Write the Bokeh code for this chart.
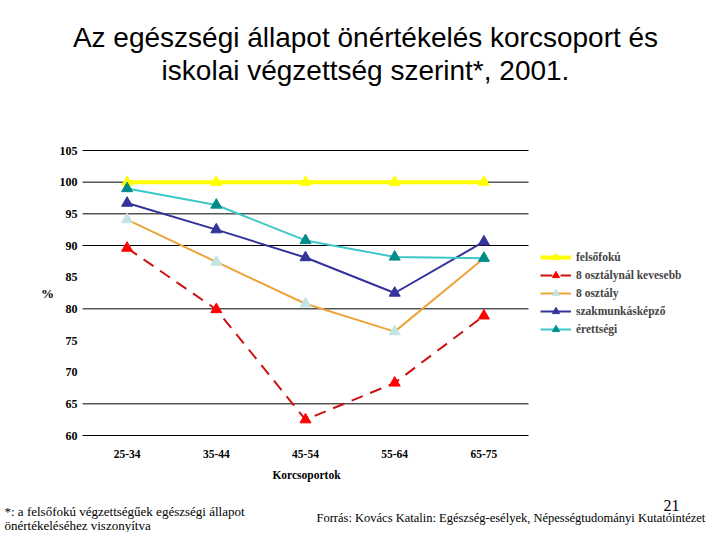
from bokeh.plotting import figure
from bokeh.models import Label, Legend, LegendItem, Range1d
from bokeh.embed import file_html
from bokeh.resources import INLINE

categories = ["25-34", "35-44", "45-54", "55-64", "65-75"]
felsofoku = [100, 100, 100, 100, 100]
kevesebb8 = [89.6, 79.9, 62.5, 68.3, 78.9]
osztaly8 = [94.1, 87.4, 80.8, 76.4, 88.0]
szakmunkas = [96.7, 92.5, 88.1, 82.5, 90.6]
erettsegi = [99.0, 96.4, 90.8, 88.2, 88.0]
y_ticks = [60, 65, 70, 75, 80, 85, 90, 95, 100, 105]
grid_values = [60, 65, 80, 90, 95, 100, 105]

SERIF = "'Liberation Serif', 'Times New Roman', serif"

W, H = 712, 532
# plot area in canvas pixels
FL, FR, FT, FB = 82, 528, 150, 435
ncat = len(categories)
cw = (FR - FL) / ncat
ppu = (FB - FT) / (y_ticks[-1] - y_ticks[0])
xs = list(range(ncat))
x0 = FL + cw / 2
xr = Range1d(-x0 / cw, (W - x0) / cw)
yr = Range1d(y_ticks[-1] - (H - FT) / ppu, y_ticks[-1] + FT / ppu)

p = figure(width=W, height=H, x_range=xr, y_range=yr,
           x_axis_location=None, y_axis_location=None,
           output_backend="svg", toolbar_location=None, min_border=0)
p.outline_line_color = None
p.grid.visible = False

# horizontal grid lines across the plot area
p.segment(x0=[-0.5] * len(grid_values), x1=[ncat - 0.5] * len(grid_values),
          y0=grid_values, y1=grid_values, line_color="black", line_width=1)

# tick labels
p.text(x=[-0.5] * len(y_ticks), y=y_ticks, text=[str(t) for t in y_ticks],
       x_offset=-5, text_align="right", text_baseline="middle",
       text_font=SERIF, text_font_style="bold", text_font_size="12px", text_color="black")
p.text(x=xs, y=[y_ticks[0]] * ncat, text=categories, y_offset=18,
       text_align="center", text_baseline="middle",
       text_font=SERIF, text_font_style="bold", text_font_size="11.5px", text_color="black")

series = [
    ("felsőfokú", felsofoku, "#FFFF00", "#FFFF00", 4, "solid"),
    ("8 osztálynál kevesebb", kevesebb8, "#CC1111", "#FF0000", 2, "12 8"),
    ("8 osztály", osztaly8, "#EBA53A", "#C5E3E3", 2, "solid"),
    ("szakmunkásképző", szakmunkas, "#333399", "#333399", 2, "solid"),
    ("érettségi", erettsegi, "#3CC8C8", "#008B8B", 2, "solid"),
]
items = []
for name, vals, lc, mc, lw, dash in series:
    ln = p.line(xs, vals, line_color=lc, line_width=lw, line_dash=dash)
    mk = p.scatter(xs, vals, marker="triangle", size=11, fill_color=mc, line_color=mc)
    items.append(LegendItem(label=name, renderers=[ln, mk]))

legend = Legend(items=items, location=(540, H - 338))
legend.border_line_color = None
legend.background_fill_alpha = 0
legend.margin = 0
legend.padding = 0
legend.spacing = 0
legend.label_height = 18
legend.glyph_height = 18
legend.glyph_width = 31
legend.label_standoff = 5
legend.label_text_font = SERIF
legend.label_text_font_style = "bold"
legend.label_text_font_size = "11.5px"
p.add_layout(legend, "center")

def lab(text, x, y, size, font=SERIF, style="normal", align="left"):
    p.add_layout(Label(x=x, y=H - y, x_units="screen", y_units="screen", text=text,
                       text_font=font, text_font_style=style, text_font_size=size,
                       text_align=align, text_baseline="middle", text_color="black"))

lab("Az egészségi állapot önértékelés korcsoport és", 365, 37, "28px", "'Liberation Sans', Arial, sans-serif", align="center")
lab("iskolai végzettség szerint*, 2001.", 365, 70, "28px", "'Liberation Sans', Arial, sans-serif", align="center")
lab("%", 47, 293, "13px", style="bold", align="center")
lab("Korcsoportok", 306, 474, "11.5px", style="bold", align="center")
lab("*: a felsőfokú végzettségűek egészségi állapot", 4, 511, "13px")
lab("önértékeléséhez viszonyítva", 4, 525, "13px")
lab("Forrás: Kovács Katalin: Egészség-esélyek, Népességtudományi Kutatóintézet", 316, 517, "12.5px")
lab("21", 671, 505, "16px", align="center")

open("out.html", "w").write(file_html(p, INLINE))
